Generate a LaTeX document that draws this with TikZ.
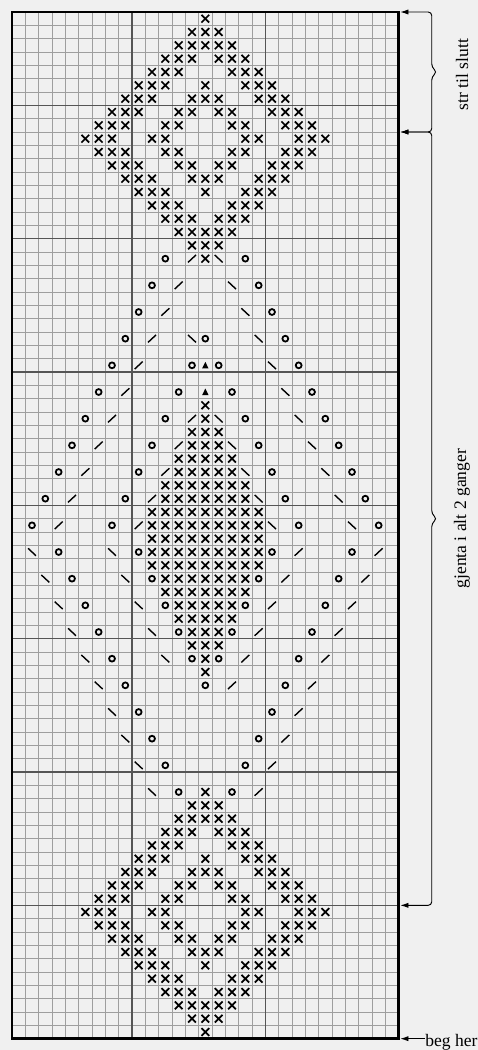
\documentclass[tikz,border=0pt]{standalone}
\usepackage{fontspec}
\setmainfont{Liberation Serif}
\definecolor{bakgrunn}{RGB}{240,240,240}
\definecolor{rutelys}{RGB}{158,158,158}
\definecolor{rutemork}{RGB}{85,85,85}
\usetikzlibrary{arrows.meta}

\begin{document}
\begin{tikzpicture}[x=0.4cm,y=-0.4cm,>={Latex[length=7pt,width=4.5pt]},
		rute/.style={rutelys,line width=0.7pt},
		tiende/.style={rutemork,line width=1.4pt},
		kant/.style={black,line width=2.2pt},
		merke/.style={black,line width=1.5pt},
		skraa/.style={black,line width=1.2pt},
		klamme/.style={<->,line width=0.8pt,rounded corners=3pt},
		tekst/.style={font=\fontsize{15}{18}\selectfont}]
				
				\fill[bakgrunn] (-0.9,-0.9) rectangle (34.95,77.85);
				\useasboundingbox (-0.9,-0.9) rectangle (34.95,77.85);
				
				\foreach \x in {0,...,29}
				\draw[rute] (\x,0)--(\x,77);
				\foreach \y in {0,...,77}
				\draw[rute] (0,\y)--(29,\y);
				
				\foreach \x in {9,19}
				\draw[tiende] (\x,0)--(\x,77);
				\foreach \y in {7,17,...,67}
				\draw[tiende] (0,\y)--(29,\y);
				
				\draw[kant] (0,0) rectangle (29,77);
				
				% rader telles ovenfra, ruter fra venstre
				\foreach \r/\cs in {1/{15},2/{14,15,16},3/{13,...,17},
					4/{12,13,14,16,17,18},5/{11,12,13,17,18,19},
					6/{10,11,12,15,18,19,20},7/{9,10,11,14,15,16,19,20,21},
					8/{8,9,10,13,14,16,17,20,21,22},9/{7,8,9,12,13,17,18,21,22,23},
					10/{6,7,8,11,12,18,19,22,23,24},11/{7,8,9,12,13,17,18,21,22,23},
					12/{8,9,10,13,14,16,17,20,21,22},13/{9,10,11,14,15,16,19,20,21},
					14/{10,11,12,15,18,19,20},15/{11,12,13,17,18,19},
					16/{12,13,14,16,17,18},17/{13,...,17},18/{14,15,16},19/{15},
					30/{15},31/{15},32/{14,15,16},33/{14,15,16},
					34/{13,...,17},35/{13,...,17},36/{12,...,18},37/{12,...,18},
					38/{11,...,19},39/{11,...,19},40/{11,...,19},41/{11,...,19},
					42/{11,...,19},43/{12,...,18},44/{12,...,18},
					45/{13,...,17},46/{13,...,17},47/{14,15,16},48/{14,15,16},
					49/{15},50/{15},
					59/{15},60/{14,15,16},61/{13,...,17},
					62/{12,13,14,16,17,18},63/{11,12,13,17,18,19},
					64/{10,11,12,15,18,19,20},65/{9,10,11,14,15,16,19,20,21},
					66/{8,9,10,13,14,16,17,20,21,22},67/{7,8,9,12,13,17,18,21,22,23},
					68/{6,7,8,11,12,18,19,22,23,24},69/{7,8,9,12,13,17,18,21,22,23},
					70/{8,9,10,13,14,16,17,20,21,22},71/{9,10,11,14,15,16,19,20,21},
					72/{10,11,12,15,18,19,20},73/{11,12,13,17,18,19},
					74/{12,13,14,16,17,18},75/{13,...,17},76/{14,15,16},77/{15}}
				\foreach \c in \cs
				\draw[merke] (\c-0.79,\r-0.79)--(\c-0.21,\r-0.21)
				(\c-0.79,\r-0.21)--(\c-0.21,\r-0.79);
				
				% kast
				\foreach \r/\cs in {19/{12,18},21/{11,19},23/{10,20},25/{9,15,21},
					27/{8,14,16,22},29/{7,13,17,23},31/{6,12,18,24},33/{5,11,19,25},
					35/{4,10,20,26},37/{3,9,21,27},39/{2,8,22,28},41/{4,10,20,26},
					43/{5,11,19,25},45/{6,12,18,24},47/{7,13,17,23},49/{8,14,16,22},
					51/{9,15,21},53/{10,20},55/{11,19},57/{12,18},59/{13,17}}
				\foreach \c in \cs
				\draw[merke] (\c-0.5,\r-0.5) circle[radius=0.22];
				
				\foreach \r/\cs in {19/{14},21/{13},23/{12},25/{11},27/{10},29/{9},
					31/{8,14},33/{7,13},35/{6,12},37/{5,11},39/{4,10},
					41/{22,28},43/{21,27},45/{20,26},47/{19,25},49/{18,24},
					51/{17,23},53/{22},55/{21},57/{20},59/{19}}
				\foreach \c in \cs
				\draw[skraa] (\c-0.8,\r-0.22)--(\c-0.2,\r-0.78);
				
				\foreach \r/\cs in {19/{16},21/{17},23/{18},25/{14,19},27/{20},29/{21},
					31/{16,22},33/{17,23},35/{18,24},37/{19,25},39/{20,26},
					41/{2,8},43/{3,9},45/{4,10},47/{5,11},49/{6,12},
					51/{7},53/{8},55/{9},57/{10},59/{11}}
				\foreach \c in \cs
				\draw[skraa] (\c-0.8,\r-0.78)--(\c-0.2,\r-0.22);
				
				\foreach \r in {27,29}
				\fill (14.5,\r-0.76)--(14.26,\r-0.27)--(14.74,\r-0.27)--cycle;
				
				\coordinate (slutt) at (29.12,0);
				\coordinate (gjentaTopp) at (29.12,9);
				\coordinate (gjentaBunn) at (29.12,67);
				\coordinate (start) at (29.12,77);
				
				\draw[klamme] (slutt) -| (31.48,4.15)--(31.88,4.5)--(31.48,4.85) |- (gjentaTopp);
				\draw[klamme] (gjentaTopp) -| (31.48,37.65)--(31.88,38)--(31.48,38.35) |- (gjentaBunn);
				
				\node[tekst,rotate=90] (strtil) at (33.75,4.7) {str til slutt};
				\node[tekst,rotate=90] (gjenta) at (33.75,38) {gjenta i alt 2 ganger};
				
				\node[tekst,anchor=base west,inner sep=0pt] (beg) at (30.98,77.62) {beg her};
				\draw[->,line width=0.8pt] (beg.west|-start) -- (start);
				
			\end{tikzpicture}
\end{document}
